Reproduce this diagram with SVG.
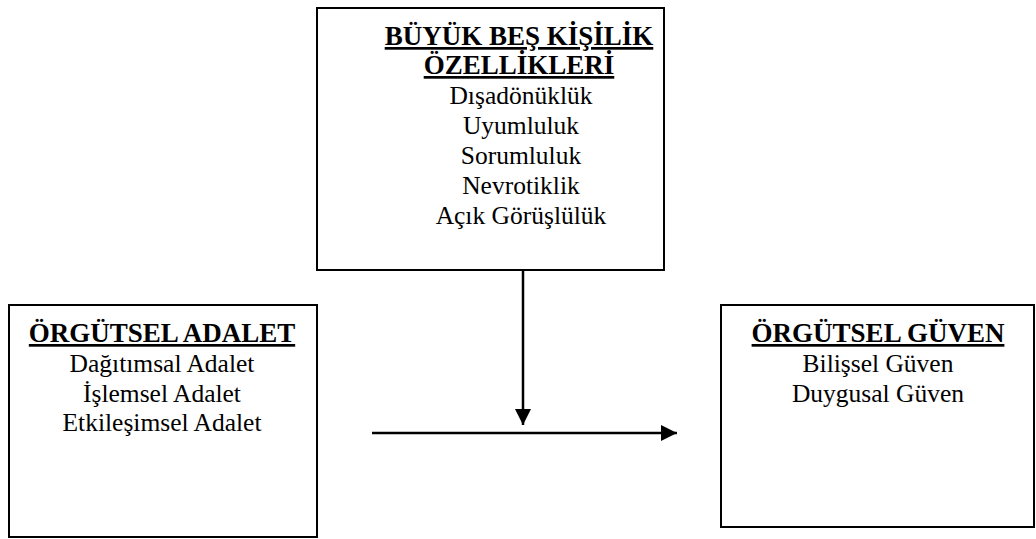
<svg xmlns="http://www.w3.org/2000/svg" width="1036" height="539" viewBox="0 0 1036 539">
<style>
.box{fill:#fff;stroke:#000;stroke-width:2}
.c{stroke:#000;stroke-width:2.5;fill:none}
</style>
<defs>
<marker id="ah" viewBox="0 0 10 10" refX="10" refY="5" markerUnits="userSpaceOnUse" markerWidth="16" markerHeight="16" orient="auto">
<path d="M0,0 L10,5 L0,10 z" fill="#000"/>
</marker>
</defs>
<rect width="1036" height="539" fill="#fff"/>
<g id="node-bigfive">
<rect class="box" x="317" y="8" width="347" height="262"/>
<text x="519" y="45" font-family="Liberation Serif" font-size="27" font-weight="bold" text-decoration="underline" text-anchor="middle">BÜYÜK BEŞ KİŞİLİK</text>
<text x="519" y="74" font-family="Liberation Serif" font-size="27" font-weight="bold" text-decoration="underline" text-anchor="middle">ÖZELLİKLERİ</text>
<text x="521" y="104" font-family="Liberation Serif" font-size="25.5" text-anchor="middle">Dışadönüklük</text>
<text x="521" y="134" font-family="Liberation Serif" font-size="25.5" text-anchor="middle">Uyumluluk</text>
<text x="521" y="164" font-family="Liberation Serif" font-size="25.5" text-anchor="middle">Sorumluluk</text>
<text x="521" y="194" font-family="Liberation Serif" font-size="25.5" text-anchor="middle">Nevrotiklik</text>
<text x="521" y="224" font-family="Liberation Serif" font-size="25.5" text-anchor="middle">Açık Görüşlülük</text>
</g>
<g id="node-adalet">
<rect class="box" x="9" y="305" width="308" height="232"/>
<text x="162" y="342" font-family="Liberation Serif" font-size="27" font-weight="bold" text-decoration="underline" text-anchor="middle">ÖRGÜTSEL ADALET</text>
<text x="162" y="372" font-family="Liberation Serif" font-size="25.5" text-anchor="middle">Dağıtımsal Adalet</text>
<text x="162" y="402" font-family="Liberation Serif" font-size="25.5" text-anchor="middle">İşlemsel Adalet</text>
<text x="162" y="431" font-family="Liberation Serif" font-size="25.5" text-anchor="middle">Etkileşimsel Adalet</text>
</g>
<g id="node-guven">
<rect class="box" x="721" y="305" width="313" height="222"/>
<text x="878" y="342" font-family="Liberation Serif" font-size="27" font-weight="bold" text-decoration="underline" text-anchor="middle">ÖRGÜTSEL GÜVEN</text>
<text x="878" y="372" font-family="Liberation Serif" font-size="25.5" text-anchor="middle">Bilişsel Güven</text>
<text x="878" y="402" font-family="Liberation Serif" font-size="25.5" text-anchor="middle">Duygusal Güven</text>
</g>
<g id="connectors">
<line class="c" x1="523" y1="270" x2="523" y2="425" marker-end="url(#ah)"/>
<line class="c" x1="372" y1="433" x2="677" y2="433" marker-end="url(#ah)"/>
</g>
</svg>
